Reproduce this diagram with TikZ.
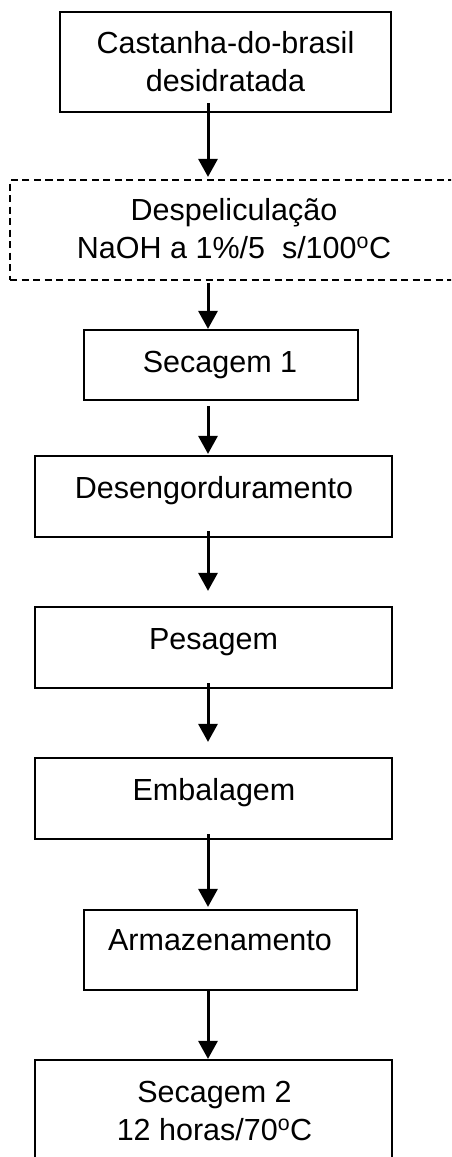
\documentclass[tikz,border=0pt]{standalone}
\usepackage{fontspec}
\setmainfont{Liberation Sans}
\usetikzlibrary{arrows.meta,calc}
\begin{document}
\begin{tikzpicture}[x=1pt,y=-1pt,
  box/.style n args={2}{draw, line width=2.2pt, inner sep=0pt, minimum width=#1, minimum height=#2},
  dbox/.style={dash pattern=on 7pt off 4.5pt},
  lbl/.style={font=\fontsize{30.5}{37.5}\selectfont, align=center, anchor=base, inner sep=0pt},
  arr/.style={line width=3pt, -{Triangle[width=19pt,length=18pt]}}]
\clip (0,0) rectangle (451,1157);
\fill[white] (0,0) rectangle (451,1157);
\coordinate (ax) at (208,0);
% boxes
\node[box={331pt}{100pt}] (b1) at (225.5,62) {};
\node[box={460pt}{100pt}, dbox] (b2) at (240,230) {};
\node[box={274pt}{70pt}] (b3) at (221,365) {};
\node[box={357pt}{81pt}] (b4) at (213.5,496.5) {};
\node[box={357pt}{81pt}] (b5) at (213.5,647.5) {};
\node[box={357pt}{81pt}] (b6) at (213.5,798.5) {};
\node[box={273pt}{80pt}] (b7) at (220.5,950) {};
\node[box={357pt}{110pt}] (b8) at (213.5,1115) {};
% texts (base anchor = baseline of the last line)
\node[lbl] (t1) at (225.5,91) {Castanha-do-brasil\\desidratada};
\node[lbl] (t2) at (234,258) {Despeliculação\\NaOH a 1\%/5~~s/100\textsuperscript{o}C};
\node[lbl] (t3) at (220,372) {Secagem 1};
\node[lbl] (t4) at (214,498) {Desengorduramento};
\node[lbl] (t5) at (213.5,649) {Pesagem};
\node[lbl] (t6) at (214,800) {Embalagem};
\node[lbl] (t7) at (220,950) {Armazenamento};
\node[lbl] (t8) at (214.5,1140) {Secagem 2\\12 horas/70\textsuperscript{o}C};
% arrows
\draw[arr, shorten <=-10pt, shorten >=2pt] (b1.south -| ax) -- (b2.north -| ax);
\draw[arr, shorten <=2pt] (b2.south -| ax) -- (b3.north -| ax);
\draw[arr, shorten <=5pt, shorten >=1pt] (b3.south -| ax) -- (b4.north -| ax);
\draw[arr, shorten <=-7pt, shorten >=15pt] (b4.south -| ax) -- (b5.north -| ax);
\draw[arr, shorten <=-6pt, shorten >=15pt] (b5.south -| ax) -- (b6.north -| ax);
\draw[arr, shorten <=-6pt, shorten >=2pt] (b6.south -| ax) -- (b7.north -| ax);
\draw[arr, shorten <=-2pt] (b7.south -| ax) -- (b8.north -| ax);
\end{tikzpicture}
\end{document}
